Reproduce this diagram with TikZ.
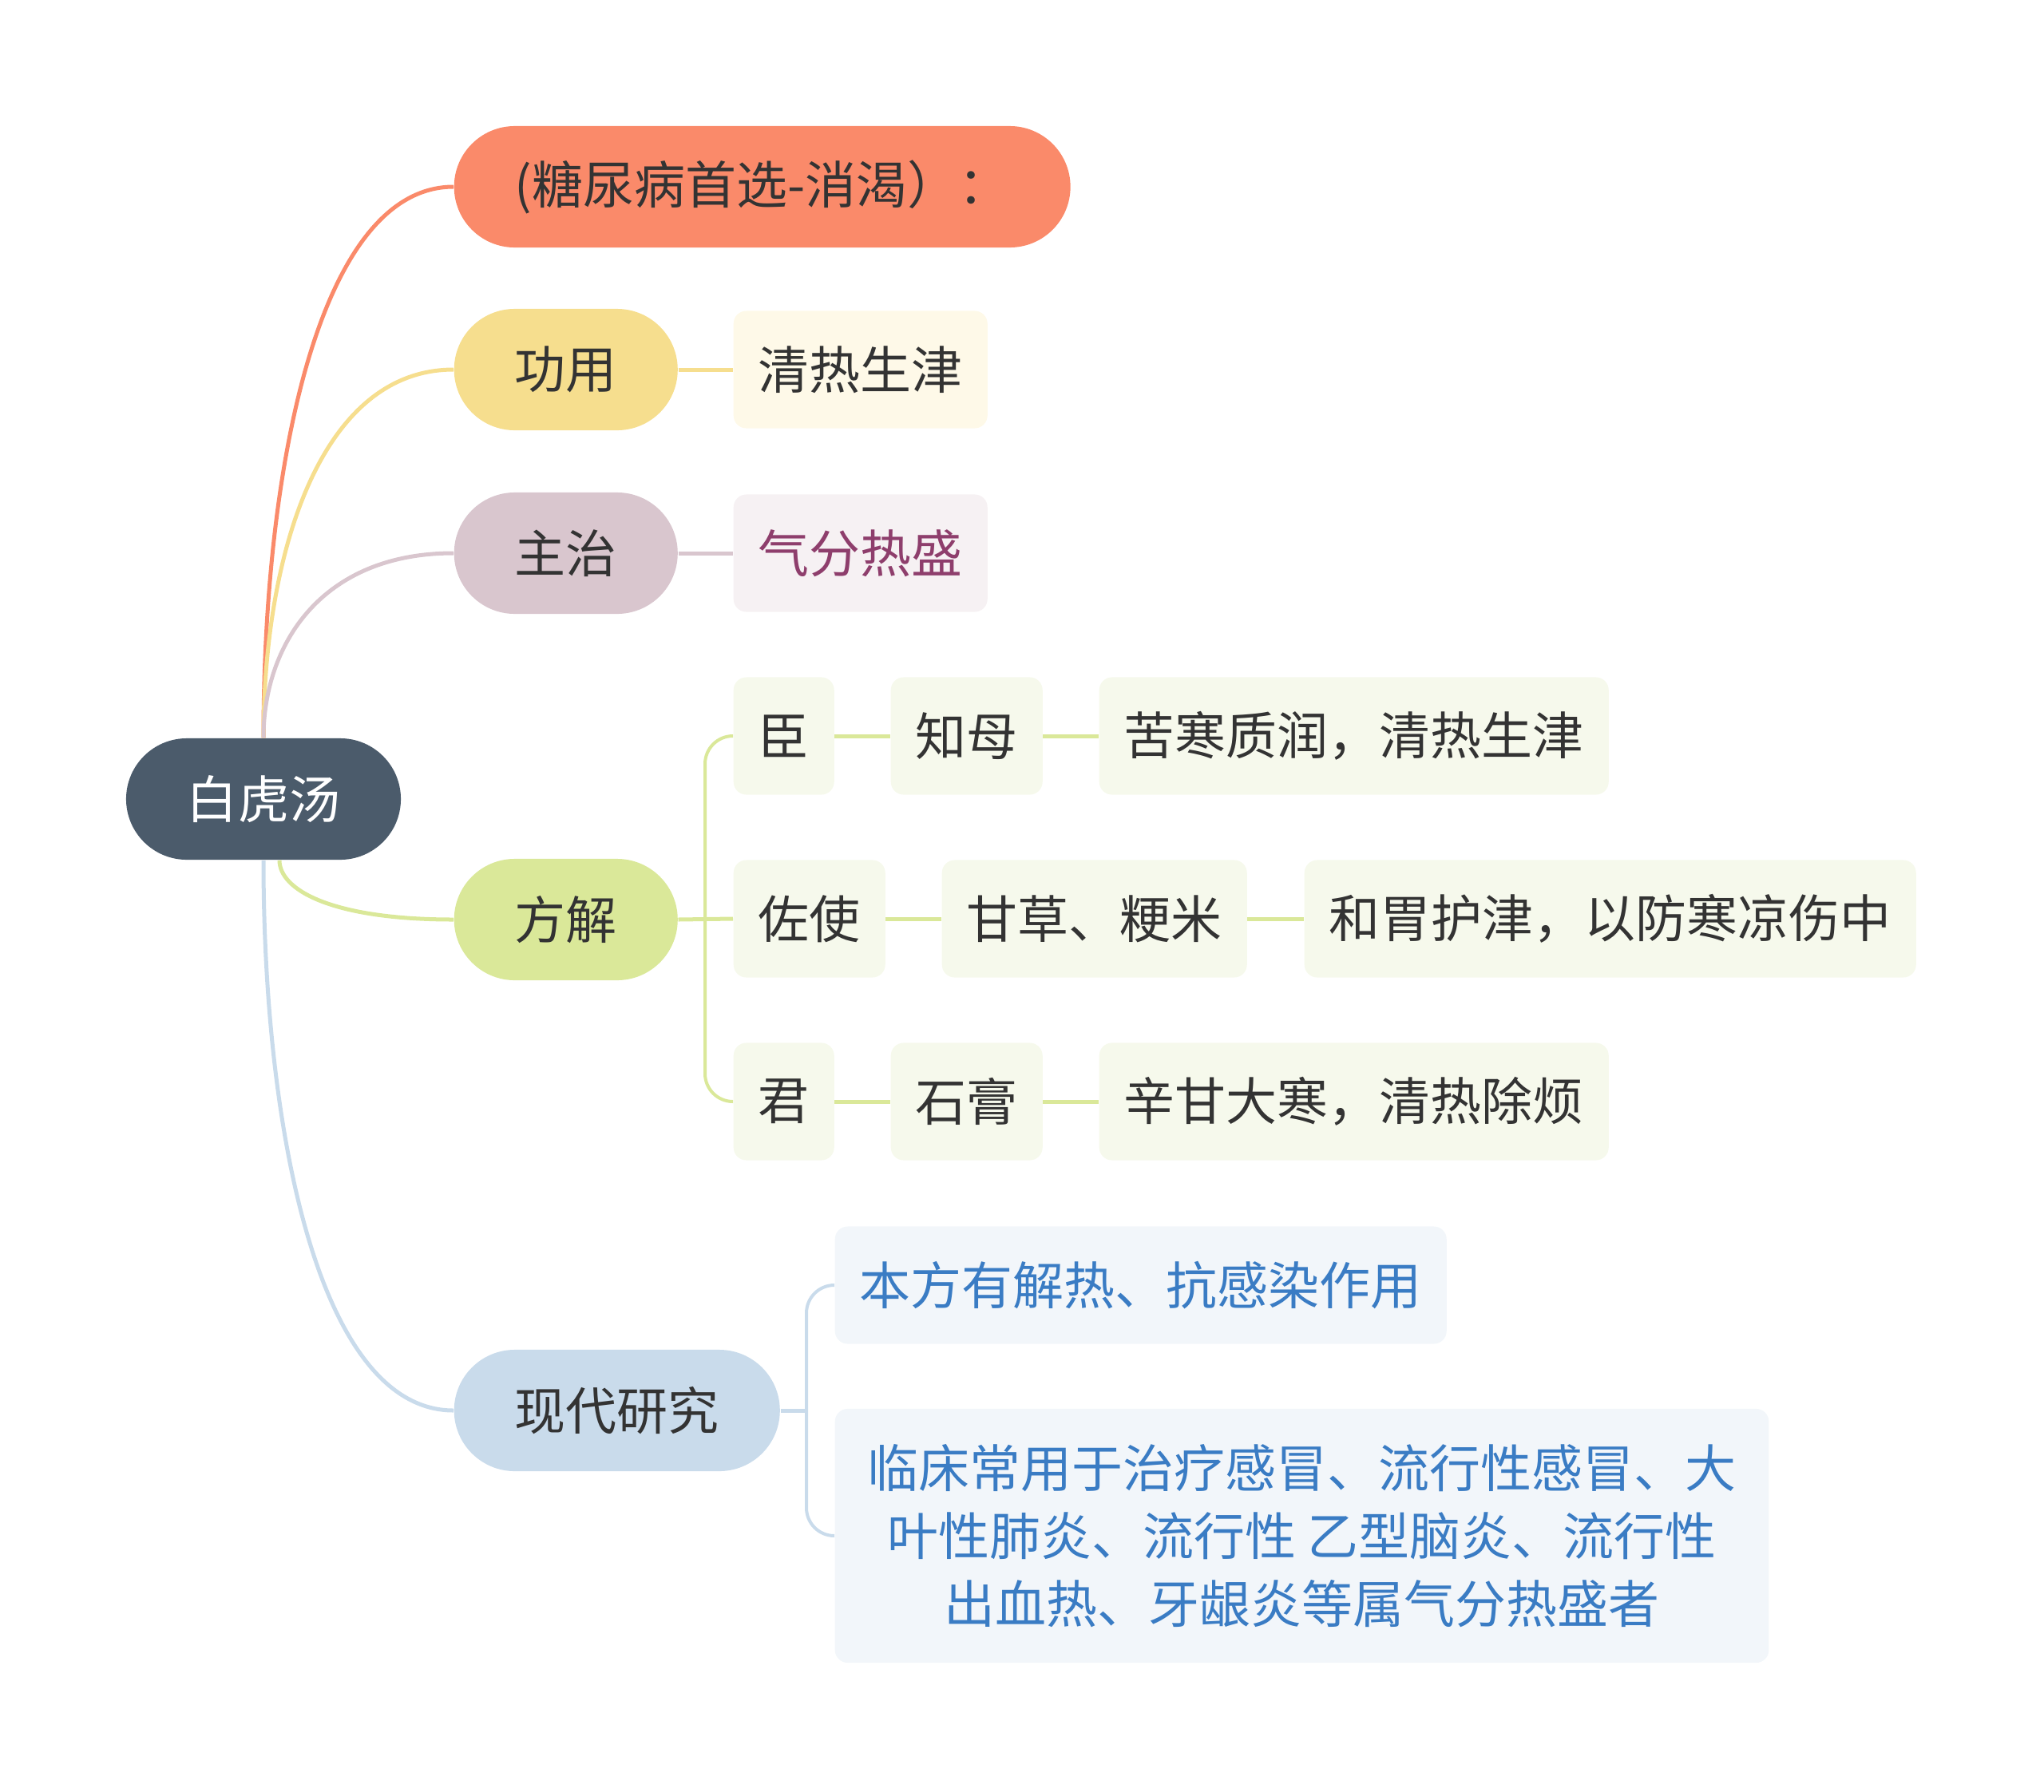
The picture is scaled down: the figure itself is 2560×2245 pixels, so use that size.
\documentclass[tikz,border=0pt]{standalone}
\usepackage{fontspec}
\setmainfont{Noto Sans CJK SC}
\definecolor{rootslate} {HTML}{4B5B6B}
\definecolor{topsalmon} {HTML}{FA8A6A}
\definecolor{useyellow} {HTML}{F6DE8E}
\definecolor{usecream}  {HTML}{FEF9E8}
\definecolor{curemauve} {HTML}{D9C6CE}
\definecolor{curepale}  {HTML}{F6F1F3}
\definecolor{curetext}  {HTML}{8E3E6C}
\definecolor{formgreen} {HTML}{DAE899}
\definecolor{formpale}  {HTML}{F6F9EC}
\definecolor{studyblue} {HTML}{C9DBEB}
\definecolor{studypale} {HTML}{F2F6FA}
\definecolor{studytext} {HTML}{3A7CC4}
\definecolor{inkgray}   {HTML}{333333}

\begin{document}
\begin{tikzpicture}[
  x=0.01cm,y=-0.01cm,
  every node/.style={font=\fontsize{18.2}{24.2}\selectfont,text=inkgray,inner sep=0pt},
  pill/.style={rounded corners=0.76cm,minimum height=1.52cm,inner xsep=0.76cm,anchor=west},
  leaf/.style={rounded corners=0.16cm,minimum height=1.47cm,inner xsep=0.31cm,anchor=west},
  link/.style={line width=0.05cm},
  spine/.style={line width=0.04cm,rounded corners=0.35cm},
]
\useasboundingbox (0,0) rectangle (2560,2245);

%% ── Root ─────────────────────────────────────────────────────────────────
\node[pill,anchor=center,fill=rootslate,text=white] (root) at (330,1001) {白虎汤};

%% ── First level ──────────────────────────────────────────────────────────
\node[pill,fill=topsalmon] (title) at (568,234)  {(糖尿病首选-消渴）：};
\node[pill,fill=useyellow] (gy)    at (568,463)  {功用};
\node[pill,fill=curemauve] (zz)    at (568,693)  {主治};
\node[pill,fill=formgreen] (fj)    at (568,1152) {方解};
\node[pill,fill=studyblue] (xd)    at (568,1767) {现代研究};

%% ── 功用 / 主治 leaves ───────────────────────────────────────────────────
\node[leaf,fill=usecream]                (gyc) at (918,463) {清热生津};
\node[leaf,fill=curepale,text=curetext]  (zzc) at (918,693) {气分热盛};

%% ── 方解 rows ────────────────────────────────────────────────────────────
\node[leaf,fill=formpale] (chen) at (918,922)  {臣};
\node[leaf,fill=formpale] (zm)   at (1115,922) {知母};
\node[leaf,fill=formpale] (zmx)  at (1376,922) {苦寒质润，清热生津};

\node[leaf,fill=formpale] (zs)   at (918,1151)  {佐使};
\node[leaf,fill=formpale] (gc)   at (1179,1151) {甘草、粳米};
\node[leaf,fill=formpale] (gcx)  at (1633,1151) {和胃护津，以防寒凉伤中};

\node[leaf,fill=formpale] (jun)  at (918,1380)  {君};
\node[leaf,fill=formpale] (sg)   at (1115,1380) {石膏};
\node[leaf,fill=formpale] (sgx)  at (1376,1380) {辛甘大寒，清热除烦};

%% ── 现代研究 leaves ──────────────────────────────────────────────────────
\node[leaf,fill=studypale,text=studytext] (bf) at (1045,1610) {本方有解热、抗感染作用};
\node[leaf,fill=studypale,text=studytext,align=center,minimum width=11.69cm,minimum height=3.18cm]
  (lc) at (1045,1924)
  {临床常用于治疗感冒、流行性感冒、大\\叶性肺炎、流行性 乙型脑炎、流行性\\出血热、牙龈炎等属气分热盛者};

%% ── Root → first level ───────────────────────────────────────────────────
\draw[link,topsalmon] (root.north) .. controls +(0,-345) and +(-167,0) .. (title.west);
\draw[link,useyellow] (root.north) .. controls +(0,-230) and +(-167,0) .. (gy.west);
\draw[link,curemauve] (root.north) .. controls +(0,-115) and +(-167,0) .. (zz.west);
\draw[link,formgreen] ([xshift=0.2cm]root.south) .. controls +(0,37) and +(-153,0) .. (fj.west);
\draw[link,studyblue] (root.south) .. controls +(0,345) and +(-167,0) .. (xd.west);

%% First level → leaves
\draw[link,useyellow] (gy.east) -- (gyc.west);
\draw[link,curemauve] (zz.east) -- (zzc.west);

%% 方解 branch
\coordinate (fjsp) at (883,1152);
\draw[link,formgreen] (fj.east) -- (zs.west);
\draw[spine,formgreen] (fjsp) |- (chen.west);
\draw[spine,formgreen] (fjsp) |- (jun.west);
\draw[link,formgreen] (chen.east) -- (zm.west);
\draw[link,formgreen] (zm.east)   -- (zmx.west);
\draw[link,formgreen] (zs.east)   -- (gc.west);
\draw[link,formgreen] (gc.east)   -- (gcx.west);
\draw[link,formgreen] (jun.east)  -- (sg.west);
\draw[link,formgreen] (sg.east)   -- (sgx.west);

%% 现代研究 branch
\coordinate (xdsp) at (1010,1767);
\draw[link,studyblue] (xd.east) -- (xdsp);
\draw[spine,studyblue] (xdsp) |- (bf.west);
\draw[spine,studyblue] (xdsp) |- (lc.west);

\end{tikzpicture}
\end{document}
